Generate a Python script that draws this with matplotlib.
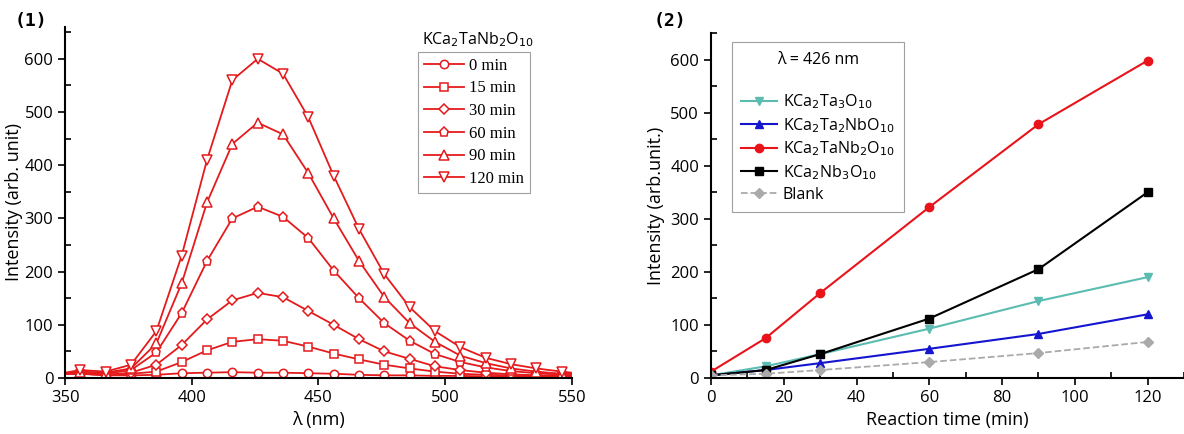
import numpy as np
import matplotlib
matplotlib.use("Agg")
import matplotlib.pyplot as plt
from matplotlib.ticker import MultipleLocator

plt.rcParams['font.family'] = ['Open Sans', 'DejaVu Sans']

# ---- panel (1): emission spectra of KCa2TaNb2O10 at different times ----
wl = [350, 356, 366, 376, 386, 396, 406, 416, 426, 436, 446, 456, 466, 476,
      486, 496, 506, 516, 526, 536, 546, 550]
spec_labels = ['0 min', '15 min', '30 min', '60 min', '90 min', '120 min']
spec_0 = [8, 8, 5, 5, 6, 9, 10, 11, 10, 10, 9, 8, 6, 5, 5, 4, 4, 3, 3, 3, 3, 3]
spec_15 = [8, 8, 6, 8, 12, 30, 52, 68, 73, 70, 59, 46, 35, 25, 18, 12, 8, 6, 5, 4, 3, 3]
spec_30 = [8, 8, 6, 10, 25, 62, 110, 146, 160, 152, 126, 100, 73, 50, 36, 22, 15, 10, 7, 5, 4, 4]
spec_60 = [9, 10, 8, 15, 48, 122, 220, 300, 322, 303, 263, 202, 150, 103, 70, 45, 30, 20, 13, 9, 6, 6]
spec_90 = [9, 12, 10, 18, 65, 178, 330, 440, 480, 458, 385, 300, 220, 152, 103, 68, 42, 28, 18, 12, 8, 8]
spec_120 = [10, 15, 12, 25, 88, 230, 410, 560, 600, 572, 490, 380, 280, 195, 133, 88, 58, 38, 26, 18, 12, 10]
spec_markers = ['o', 's', 'D', 'p', '^', 'v']
spec_sizes = [6, 6, 5, 6.5, 6.5, 6.5]

# ---- panel (2): intensity at 426 nm vs reaction time ----
t = [0, 15, 30, 60, 90, 120]
ta3 = [5, 22, 45, 93, 145, 190]
ta2nb = [5, 15, 28, 55, 83, 120]
tanb2 = [12, 75, 160, 322, 478, 598]
nb3 = [5, 15, 45, 112, 205, 350]
blank = [5, 8, 15, 30, 47, 68]

fig = plt.figure(figsize=(11.84, 4.34), dpi=100)
ax1 = fig.add_axes([0.055, 0.129, 0.428, 0.809])
ax2 = fig.add_axes([0.6005, 0.129, 0.3995, 0.795])

red = '#e41a1c'
series = [spec_0, spec_15, spec_30, spec_60, spec_90, spec_120]
for y, m, s, lab in zip(series, spec_markers, spec_sizes, spec_labels):
    ax1.plot(wl, y, color=red, lw=1.3, marker=m, ms=s, mfc='white', mec=red,
             mew=1.1, markevery=list(range(1, 21)), label=lab)

ax1.set_xlim(350, 550)
ax1.set_ylim(0, 660)
ax1.xaxis.set_major_locator(MultipleLocator(50))
ax1.xaxis.set_minor_locator(MultipleLocator(25))
ax1.yaxis.set_major_locator(MultipleLocator(100))
ax1.yaxis.set_minor_locator(MultipleLocator(50))
ax1.set_xlabel('λ (nm)', fontsize=13)
ax1.set_ylabel('Intensity (arb. unit)', fontsize=13, labelpad=1)
leg1 = ax1.legend(loc='upper right', bbox_to_anchor=(0.917, 0.929), borderaxespad=0,
                  frameon=True, fancybox=False, edgecolor='#888888', handlelength=2.4,
                  labelspacing=0.4, borderpad=0.35, handletextpad=0.3,
                  prop={'family': 'Liberation Serif', 'size': 12})
leg1.get_frame().set_linewidth(0.8)
ax1.text(0.815, 0.965, 'KCa$_2$TaNb$_2$O$_{10}$', transform=ax1.transAxes,
         ha='center', va='center', fontsize=11.5)

ax2.plot(t, ta3, color='#5bbcb2', lw=1.5, marker='v', ms=6, label='KCa$_2$Ta$_3$O$_{10}$')
ax2.plot(t, ta2nb, color='#1515d0', lw=1.5, marker='^', ms=6, label='KCa$_2$Ta$_2$NbO$_{10}$')
ax2.plot(t, tanb2, color='#e8141a', lw=1.5, marker='o', ms=6, label='KCa$_2$TaNb$_2$O$_{10}$')
ax2.plot(t, nb3, color='black', lw=1.5, marker='s', ms=6, label='KCa$_2$Nb$_3$O$_{10}$')
ax2.plot(t, blank, color='#aaaaaa', lw=1.3, ls='--', marker='D', ms=5, label='Blank')

ax2.set_xlim(0, 130)
ax2.set_ylim(0, 650)
ax2.xaxis.set_major_locator(MultipleLocator(20))
ax2.xaxis.set_minor_locator(MultipleLocator(10))
ax2.yaxis.set_major_locator(MultipleLocator(100))
ax2.yaxis.set_minor_locator(MultipleLocator(50))
ax2.set_xlabel('Reaction time (min)', fontsize=13)
ax2.set_ylabel('Intensity (arb.unit.)', fontsize=13)
leg2 = ax2.legend(loc='upper left', bbox_to_anchor=(0.044, 0.974), borderaxespad=0,
                  frameon=True, fancybox=False, edgecolor='#888888', handlelength=2.2,
                  labelspacing=0.3, borderpad=0.6, handletextpad=0.4,
                  fontsize=11.5, title='λ = 426 nm', title_fontsize=11.5)
leg2.get_frame().set_linewidth(0.8)
leg2._legend_box.sep = 18

for ax in (ax1, ax2):
    ax.spines['top'].set_visible(False)
    ax.spines['right'].set_visible(False)
    ax.spines['left'].set_linewidth(1.5)
    ax.spines['bottom'].set_linewidth(1.5)
    ax.tick_params(which='major', direction='out', length=5, width=1.2, labelsize=12)
    ax.tick_params(which='minor', direction='in', length=4, width=1.2)

fig.text(0.012, 0.94, '(1)', fontsize=13, fontweight='bold', family='DejaVu Sans Mono')
fig.text(0.552, 0.94, '(2)', fontsize=13, fontweight='bold', family='DejaVu Sans Mono')

fig.savefig('out.png', dpi=100)
